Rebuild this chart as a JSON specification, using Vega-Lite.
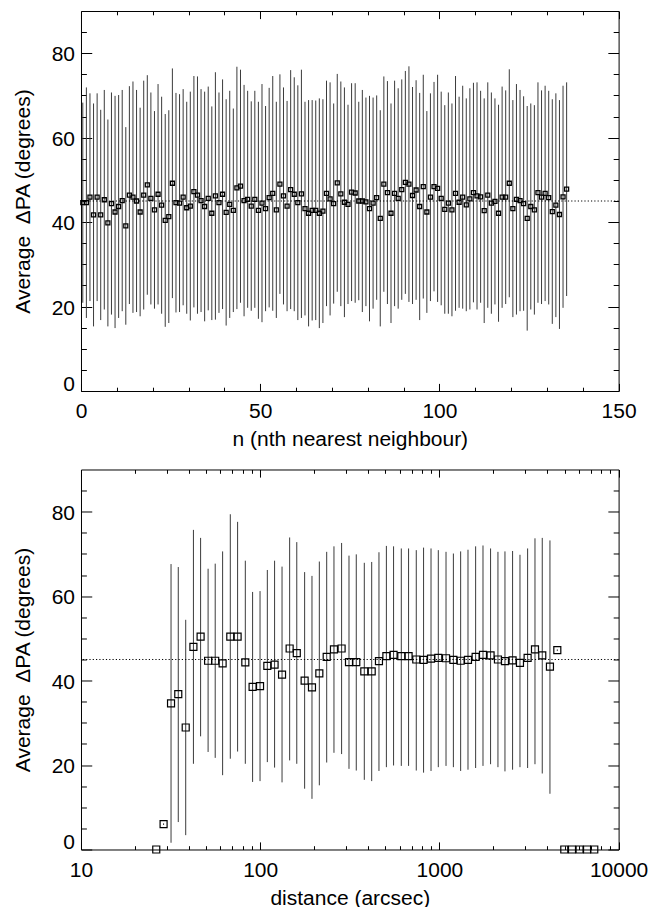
{
  "$schema": "https://vega.github.io/schema/vega-lite/v6.json",
  "autosize": {"type": "pad"},
  "padding": {"left": 12, "top": 10, "right": 5, "bottom": 0},
  "background": "white",
  "bounds": "flush",
  "spacing": 78.5,
  "config": {
    "font": "Liberation Sans",
    "view": {"stroke": null},
    "axis": {
      "labelFont": "Liberation Sans", "titleFont": "Liberation Sans",
      "labelFontSize": 21, "titleFontSize": 21, "titleFontWeight": "normal",
      "labelColor": "black", "titleColor": "black", "domainColor": "black", "tickColor": "black",
      "domainWidth": 1, "tickWidth": 1, "grid": false, "labelFlush": false, "labelOverlap": false
    }
  },
  "datasets": {
    "nn": [
      {"n":0.5,"y":44.6,"lo":20.9,"hi":68.3},{"n":1.5,"y":44.6,"lo":17.3,"hi":71.9},{"n":2.5,"y":45.9,"lo":21.3,"hi":70.5},{"n":3.5,"y":41.7,"lo":15.3,"hi":68.1},
      {"n":4.5,"y":45.9,"lo":21.3,"hi":70.5},{"n":5.5,"y":41.7,"lo":16.8,"hi":66.6},{"n":6.5,"y":45.3,"lo":19.3,"hi":71.3},{"n":7.5,"y":39.8,"lo":15.3,"hi":64.3},
      {"n":8.5,"y":44.4,"lo":18.1,"hi":70.7},{"n":9.5,"y":42.4,"lo":14.9,"hi":69.9},{"n":10.5,"y":43.7,"lo":17.3,"hi":70.1},{"n":11.5,"y":45.1,"lo":18.9,"hi":71.3},
      {"n":12.5,"y":39.1,"lo":15.7,"hi":62.5},{"n":13.5,"y":46.4,"lo":20.6,"hi":72.2},{"n":14.5,"y":45.9,"lo":18.5,"hi":73.3},{"n":15.5,"y":45.0,"lo":18.7,"hi":71.3},
      {"n":16.5,"y":42.4,"lo":17.7,"hi":67.1},{"n":17.5,"y":46.4,"lo":19.3,"hi":73.5},{"n":18.5,"y":48.8,"lo":22.8,"hi":74.8},{"n":19.5,"y":45.6,"lo":20.5,"hi":70.7},
      {"n":20.5,"y":42.9,"lo":19.5,"hi":66.3},{"n":21.5,"y":46.6,"lo":20.5,"hi":72.7},{"n":22.5,"y":44.0,"lo":18.3,"hi":69.7},{"n":23.5,"y":40.4,"lo":15.2,"hi":65.6},
      {"n":24.5,"y":41.3,"lo":16.1,"hi":66.5},{"n":25.5,"y":49.2,"lo":22.0,"hi":76.4},{"n":26.5,"y":44.6,"lo":18.6,"hi":70.6},{"n":27.5,"y":44.5,"lo":18.7,"hi":70.3},
      {"n":28.5,"y":45.9,"lo":20.3,"hi":71.5},{"n":29.5,"y":43.4,"lo":18.3,"hi":68.5},{"n":30.5,"y":43.8,"lo":16.7,"hi":70.9},{"n":31.5,"y":47.2,"lo":19.8,"hi":74.6},
      {"n":32.5,"y":46.4,"lo":18.3,"hi":74.5},{"n":33.5,"y":45.1,"lo":18.7,"hi":71.5},{"n":34.5,"y":43.7,"lo":16.5,"hi":70.9},{"n":35.5,"y":45.6,"lo":19.1,"hi":72.1},
      {"n":36.5,"y":42.1,"lo":16.8,"hi":67.4},{"n":37.5,"y":46.2,"lo":16.9,"hi":75.5},{"n":38.5,"y":44.6,"lo":18.5,"hi":70.7},{"n":39.5,"y":46.6,"lo":19.4,"hi":73.8},
      {"n":40.5,"y":42.3,"lo":15.5,"hi":69.1},{"n":41.5,"y":44.2,"lo":17.3,"hi":71.1},{"n":42.5,"y":42.8,"lo":18.7,"hi":66.9},{"n":43.5,"y":48.1,"lo":19.4,"hi":76.8},
      {"n":44.5,"y":48.5,"lo":20.9,"hi":76.1},{"n":45.5,"y":45.1,"lo":17.7,"hi":72.5},{"n":46.5,"y":45.4,"lo":19.7,"hi":71.1},{"n":47.5,"y":43.8,"lo":19.0,"hi":68.6},
      {"n":48.5,"y":45.4,"lo":19.7,"hi":71.1},{"n":49.5,"y":42.8,"lo":17.1,"hi":68.5},{"n":50.5,"y":44.5,"lo":16.3,"hi":72.7},{"n":51.5,"y":43.2,"lo":18.9,"hi":67.5},
      {"n":52.5,"y":45.8,"lo":19.8,"hi":71.8},{"n":53.5,"y":46.8,"lo":19.0,"hi":74.6},{"n":54.5,"y":42.9,"lo":17.3,"hi":68.5},{"n":55.5,"y":49.0,"lo":23.0,"hi":75.0},
      {"n":56.5,"y":46.2,"lo":20.5,"hi":71.9},{"n":57.5,"y":43.8,"lo":18.9,"hi":68.7},{"n":58.5,"y":47.7,"lo":19.4,"hi":76.0},{"n":59.5,"y":46.6,"lo":18.9,"hi":74.3},
      {"n":60.5,"y":44.6,"lo":16.8,"hi":72.4},{"n":61.5,"y":46.7,"lo":17.3,"hi":76.1},{"n":62.5,"y":43.2,"lo":17.9,"hi":68.5},{"n":63.5,"y":42.1,"lo":15.3,"hi":68.9},
      {"n":64.5,"y":42.8,"lo":16.7,"hi":68.9},{"n":65.5,"y":42.8,"lo":16.8,"hi":68.8},{"n":66.5,"y":42.1,"lo":14.9,"hi":69.3},{"n":67.5,"y":42.6,"lo":16.1,"hi":69.1},
      {"n":68.5,"y":46.8,"lo":20.1,"hi":73.5},{"n":69.5,"y":45.5,"lo":17.9,"hi":73.1},{"n":70.5,"y":44.4,"lo":20.7,"hi":68.1},{"n":71.5,"y":49.3,"lo":23.5,"hi":75.1},
      {"n":72.5,"y":46.7,"lo":20.1,"hi":73.3},{"n":73.5,"y":44.7,"lo":17.5,"hi":71.9},{"n":74.5,"y":44.2,"lo":20.6,"hi":67.8},{"n":75.5,"y":47.1,"lo":21.3,"hi":72.9},
      {"n":76.5,"y":46.9,"lo":20.9,"hi":72.9},{"n":77.5,"y":45.0,"lo":21.5,"hi":68.5},{"n":78.5,"y":45.0,"lo":18.7,"hi":71.3},{"n":79.5,"y":44.8,"lo":20.1,"hi":69.5},
      {"n":80.5,"y":43.2,"lo":16.5,"hi":69.9},{"n":81.5,"y":44.5,"lo":19.5,"hi":69.5},{"n":82.5,"y":45.8,"lo":21.6,"hi":70.0},{"n":83.5,"y":40.9,"lo":15.3,"hi":66.5},
      {"n":84.5,"y":49.0,"lo":23.5,"hi":74.5},{"n":85.5,"y":47.0,"lo":20.6,"hi":73.4},{"n":86.5,"y":42.1,"lo":16.1,"hi":68.1},{"n":87.5,"y":46.8,"lo":20.1,"hi":73.5},
      {"n":88.5,"y":45.6,"lo":19.5,"hi":71.7},{"n":89.5,"y":47.7,"lo":21.6,"hi":73.8},{"n":90.5,"y":49.4,"lo":23.0,"hi":75.8},{"n":91.5,"y":49.0,"lo":21.1,"hi":76.9},
      {"n":92.5,"y":46.3,"lo":20.6,"hi":72.0},{"n":93.5,"y":47.6,"lo":21.6,"hi":73.6},{"n":94.5,"y":43.7,"lo":16.8,"hi":70.6},{"n":95.5,"y":48.4,"lo":21.9,"hi":74.9},
      {"n":96.5,"y":42.4,"lo":18.5,"hi":66.3},{"n":97.5,"y":45.9,"lo":21.3,"hi":70.5},{"n":98.5,"y":48.4,"lo":23.6,"hi":73.2},{"n":99.5,"y":48.0,"lo":21.1,"hi":74.9},
      {"n":100.5,"y":45.6,"lo":20.3,"hi":70.9},{"n":101.5,"y":43.0,"lo":18.3,"hi":67.7},{"n":102.5,"y":44.5,"lo":18.3,"hi":70.7},{"n":103.5,"y":42.9,"lo":17.7,"hi":68.1},
      {"n":104.5,"y":46.8,"lo":19.0,"hi":74.6},{"n":105.5,"y":44.7,"lo":19.7,"hi":69.7},{"n":106.5,"y":45.9,"lo":19.5,"hi":72.3},{"n":107.5,"y":44.1,"lo":18.9,"hi":69.3},
      {"n":108.5,"y":45.5,"lo":19.3,"hi":71.7},{"n":109.5,"y":47.0,"lo":21.0,"hi":73.0},{"n":110.5,"y":46.2,"lo":19.3,"hi":73.1},{"n":111.5,"y":46.0,"lo":20.9,"hi":71.1},
      {"n":112.5,"y":42.7,"lo":16.1,"hi":69.3},{"n":113.5,"y":46.4,"lo":19.7,"hi":73.1},{"n":114.5,"y":44.5,"lo":18.3,"hi":70.7},{"n":115.5,"y":44.9,"lo":20.5,"hi":69.3},
      {"n":116.5,"y":42.1,"lo":16.4,"hi":67.8},{"n":117.5,"y":45.9,"lo":19.7,"hi":72.1},{"n":118.5,"y":45.9,"lo":20.6,"hi":71.2},{"n":119.5,"y":49.2,"lo":22.2,"hi":76.2},
      {"n":120.5,"y":43.2,"lo":17.5,"hi":68.9},{"n":121.5,"y":45.4,"lo":18.1,"hi":72.7},{"n":122.5,"y":45.1,"lo":18.9,"hi":71.3},{"n":123.5,"y":44.4,"lo":19.0,"hi":69.8},
      {"n":124.5,"y":40.9,"lo":14.3,"hi":67.5},{"n":125.5,"y":43.7,"lo":19.3,"hi":68.1},{"n":126.5,"y":42.9,"lo":18.1,"hi":67.7},{"n":127.5,"y":47.0,"lo":20.9,"hi":73.1},
      {"n":128.5,"y":45.9,"lo":20.6,"hi":71.2},{"n":129.5,"y":46.8,"lo":21.3,"hi":72.3},{"n":130.5,"y":45.8,"lo":20.5,"hi":71.1},{"n":131.5,"y":42.5,"lo":15.9,"hi":69.1},
      {"n":132.5,"y":44.0,"lo":17.5,"hi":70.5},{"n":133.5,"y":41.8,"lo":14.7,"hi":68.9},{"n":134.5,"y":46.0,"lo":19.7,"hi":72.3},{"n":135.5,"y":47.8,"lo":22.5,"hi":73.1}
    ],
    "dist": [
      {"d":26.3,"y":0},{"d":28.9,"y":6.0,"lo":5.8,"hi":6.2},
      {"d":31.8,"y":34.6,"lo":1.6,"hi":67.6},{"d":34.9,"y":36.8,"lo":6.5,"hi":66.9},{"d":38.4,"y":28.9,"lo":3.4,"hi":54.4},
      {"d":42.4,"y":48.0,"lo":20.3,"hi":75.7},{"d":46.5,"y":50.4,"lo":26.8,"hi":73.8},{"d":51.2,"y":44.7,"lo":23.1,"hi":66.5},
      {"d":56.1,"y":44.7,"lo":21.7,"hi":67.7},{"d":61.7,"y":44.1,"lo":17.6,"hi":70.6},{"d":68.1,"y":50.4,"lo":21.5,"hi":79.4},
      {"d":74.8,"y":50.4,"lo":23.2,"hi":77.6},{"d":82.6,"y":44.3,"lo":20.3,"hi":68.4},{"d":90.7,"y":38.5,"lo":16.0,"hi":61.0},
      {"d":99.8,"y":38.7,"lo":16.2,"hi":61.2},{"d":109.6,"y":43.5,"lo":20.7,"hi":66.2},{"d":120.3,"y":43.8,"lo":19.4,"hi":68.4},
      {"d":132.4,"y":41.4,"lo":15.9,"hi":67.0},{"d":146,"y":47.6,"lo":21.1,"hi":73.9},{"d":160,"y":46.5,"lo":20.3,"hi":72.8},
      {"d":177,"y":40.0,"lo":14.4,"hi":65.7},{"d":194.5,"y":38.4,"lo":12.0,"hi":64.8},{"d":213.8,"y":41.7,"lo":15.2,"hi":68.2},
      {"d":235,"y":45.6,"lo":20.6,"hi":70.5},{"d":258,"y":47.4,"lo":22.9,"hi":71.8},{"d":284.6,"y":47.6,"lo":22.6,"hi":72.6},
      {"d":313,"y":44.4,"lo":19.1,"hi":69.6},{"d":343.7,"y":44.4,"lo":18.7,"hi":69.9},{"d":381,"y":42.2,"lo":16.5,"hi":67.9},
      {"d":419,"y":42.2,"lo":16.2,"hi":68.1},{"d":460,"y":44.6,"lo":18.6,"hi":70.4},{"d":506,"y":45.8,"lo":19.5,"hi":71.9},
      {"d":555,"y":46.1,"lo":19.9,"hi":71.8},{"d":613,"y":45.8,"lo":19.8,"hi":71.3},{"d":673,"y":45.8,"lo":19.8,"hi":71.3},
      {"d":743,"y":45.0,"lo":18.7,"hi":70.9},{"d":816,"y":44.9,"lo":18.2,"hi":71.5},{"d":898,"y":45.2,"lo":18.6,"hi":71.3},
      {"d":986,"y":45.4,"lo":19.5,"hi":70.9},{"d":1089,"y":45.3,"lo":19.8,"hi":70.5},{"d":1197,"y":44.9,"lo":19.5,"hi":70.1},
      {"d":1314,"y":44.7,"lo":18.6,"hi":70.6},{"d":1444,"y":44.9,"lo":18.9,"hi":71.0},{"d":1593,"y":45.6,"lo":19.3,"hi":71.8},
      {"d":1751,"y":46.1,"lo":19.8,"hi":72.0},{"d":1930,"y":46.0,"lo":20.2,"hi":71.3},{"d":2122,"y":45.0,"lo":19.5,"hi":70.5},
      {"d":2322,"y":44.6,"lo":18.5,"hi":70.6},{"d":2561,"y":44.8,"lo":18.9,"hi":70.7},{"d":2816,"y":44.2,"lo":19.5,"hi":69.8},
      {"d":3107,"y":45.4,"lo":19.3,"hi":71.3},{"d":3415,"y":47.4,"lo":20.2,"hi":73.7},{"d":3750,"y":46.0,"lo":18.0,"hi":73.8},
      {"d":4139,"y":43.3,"lo":13.2,"hi":73.2},{"d":4550,"y":47.2,"lo":47.0,"hi":47.4},
      {"d":4977,"y":0},{"d":5495,"y":0},{"d":6056,"y":0},{"d":6668,"y":0},{"d":7316,"y":0}
    ],
    "ref": [{"v":45}]
  },
  "vconcat": [
    {
      "width": 537.6, "height": 380,
      "resolve": {"axis": {"x": "independent", "y": "independent"}},
      "layer": [
        {
          "data": {"name": "nn"},
          "mark": {"type": "rule", "stroke": "#3a3a3a", "strokeWidth": 1},
          "encoding": {
            "x": {"field": "n", "type": "quantitative", "scale": {"domain": [0, 150], "nice": false, "zero": false},
              "axis": {"orient": "bottom", "title": "n (nth nearest neighbour)",
                "values": [0,10,20,30,40,50,60,70,80,90,100,110,120,130,140,150],
                "tickSize": {"condition": {"test": "datum.value % 50 === 0", "value": -7.6}, "value": -3.8},
                "labelExpr": "datum.value % 50 === 0 ? datum.label : ''",
                "labelPadding": 17.4, "labelBaseline": "top", "titlePadding": 3}},
            "y": {"field": "lo", "type": "quantitative", "scale": {"domain": [0, 90], "nice": false},
              "axis": {"orient": "left", "title": "Average\u00a0 ΔPA (degrees)",
                "values": [0,5,10,15,20,25,30,35,40,45,50,55,60,65,70,75,80,85],
                "tickSize": {"condition": {"test": "datum.value % 20 === 0", "value": -10.75}, "value": -5.4},
                "labelExpr": "datum.value % 20 === 0 ? datum.label : ''",
                "labelOffset": {"condition": {"test": "datum.value === 0", "value": -6.5}, "value": 1.5},
                "labelPadding": 17.25, "labelBaseline": "middle", "titlePadding": 18}},
            "y2": {"field": "hi"}
          }
        },
        {
          "data": {"name": "nn"},
          "mark": {"type": "point", "shape": "square", "filled": false, "stroke": "black", "strokeWidth": 1.3, "size": 16, "opacity": 1},
          "encoding": {
            "x": {"field": "n", "type": "quantitative", "scale": {"domain": [0, 150], "nice": false, "zero": false},
              "axis": {"orient": "top", "title": null, "labels": false,
                "values": [0,10,20,30,40,50,60,70,80,90,100,110,120,130,140,150],
                "tickSize": {"condition": {"test": "datum.value % 50 === 0", "value": -7.6}, "value": -3.8}}},
            "y": {"field": "y", "type": "quantitative", "scale": {"domain": [0, 90], "nice": false},
              "axis": {"orient": "right", "title": null, "labels": false,
                "values": [0,5,10,15,20,25,30,35,40,45,50,55,60,65,70,75,80,85],
                "tickSize": {"condition": {"test": "datum.value % 20 === 0", "value": -10.75}, "value": -5.4}}}
          }
        },
        {
          "data": {"name": "ref"},
          "mark": {"type": "rule", "stroke": "black", "strokeWidth": 1, "strokeDash": [1.2, 2.1]},
          "encoding": {
            "y": {"field": "v", "type": "quantitative", "scale": {"domain": [0, 90], "nice": false}, "axis": null}
          }
        }
      ]
    },
    {
      "width": 537.6, "height": 380,
      "resolve": {"axis": {"x": "independent", "y": "independent"}},
      "layer": [
        {
          "data": {"name": "dist"},
          "mark": {"type": "rule", "stroke": "#3a3a3a", "strokeWidth": 1},
          "encoding": {
            "x": {"field": "d", "type": "quantitative", "scale": {"type": "log", "domain": [10, 10000], "nice": false},
              "axis": {"orient": "bottom", "title": "distance (arcsec)", "format": "d",
                "values": [10,20,30,40,50,60,70,80,90,100,200,300,400,500,600,700,800,900,1000,2000,3000,4000,5000,6000,7000,8000,9000,10000],
                "tickSize": {"condition": {"test": "indexof([10,100,1000,10000], datum.value) >= 0", "value": -7.6}, "value": -3.8},
                "labelExpr": "indexof([10,100,1000,10000], datum.value) >= 0 ? datum.label : ''",
                "labelPadding": 17.4, "labelBaseline": "top", "titlePadding": 3}},
            "y": {"field": "lo", "type": "quantitative", "scale": {"domain": [0, 90], "nice": false},
              "axis": {"orient": "left", "title": "Average\u00a0 ΔPA (degrees)",
                "values": [0,5,10,15,20,25,30,35,40,45,50,55,60,65,70,75,80,85],
                "tickSize": {"condition": {"test": "datum.value % 20 === 0", "value": -10.75}, "value": -5.4},
                "labelExpr": "datum.value % 20 === 0 ? datum.label : ''",
                "labelOffset": {"condition": {"test": "datum.value === 0", "value": -6.5}, "value": 1.5},
                "labelPadding": 17.25, "labelBaseline": "middle", "titlePadding": 18}},
            "y2": {"field": "hi"}
          }
        },
        {
          "data": {"name": "dist"},
          "mark": {"type": "point", "shape": "square", "filled": false, "stroke": "black", "strokeWidth": 1.2, "size": 49, "opacity": 1},
          "encoding": {
            "x": {"field": "d", "type": "quantitative", "scale": {"type": "log", "domain": [10, 10000], "nice": false},
              "axis": {"orient": "top", "title": null, "labels": false,
                "values": [10,20,30,40,50,60,70,80,90,100,200,300,400,500,600,700,800,900,1000,2000,3000,4000,5000,6000,7000,8000,9000,10000],
                "tickSize": {"condition": {"test": "indexof([10,100,1000,10000], datum.value) >= 0", "value": -7.6}, "value": -3.8}}},
            "y": {"field": "y", "type": "quantitative", "scale": {"domain": [0, 90], "nice": false},
              "axis": {"orient": "right", "title": null, "labels": false,
                "values": [0,5,10,15,20,25,30,35,40,45,50,55,60,65,70,75,80,85],
                "tickSize": {"condition": {"test": "datum.value % 20 === 0", "value": -10.75}, "value": -5.4}}}
          }
        },
        {
          "data": {"name": "ref"},
          "mark": {"type": "rule", "stroke": "black", "strokeWidth": 1, "strokeDash": [1.2, 2.1]},
          "encoding": {
            "y": {"field": "v", "type": "quantitative", "scale": {"domain": [0, 90], "nice": false}, "axis": null}
          }
        }
      ]
    }
  ]
}
